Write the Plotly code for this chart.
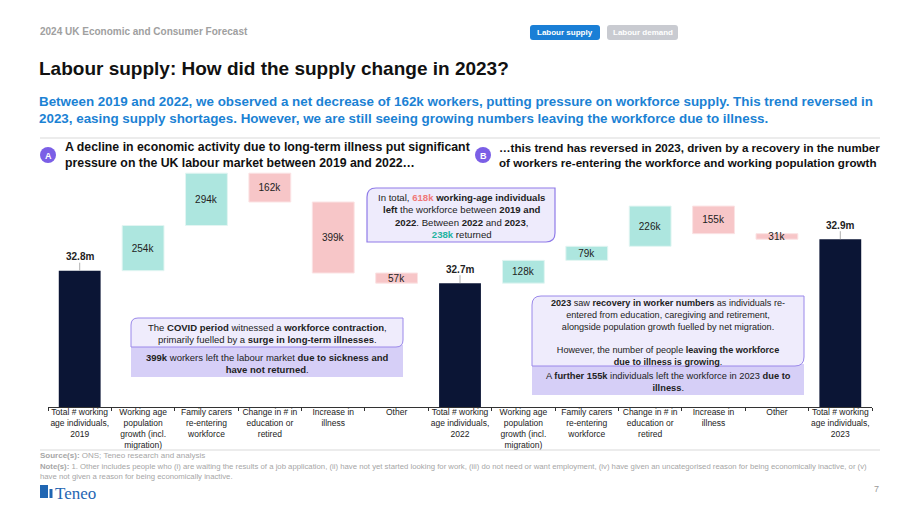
import plotly.graph_objects as go

# ---------------- data ----------------
categories = [
    "Total # working<br>age individuals,<br>2019",
    "Working age<br>population<br>growth (incl.<br>migration)",
    "Family carers<br>re-entering<br>workforce",
    "Change in # in<br>education or<br>retired",
    "Increase in<br>illness",
    "Other",
    "Total # working<br>age individuals,<br>2022",
    "Working age<br>population<br>growth (incl.<br>migration)",
    "Family carers<br>re-entering<br>workforce",
    "Change in # in<br>education or<br>retired",
    "Increase in<br>illness",
    "Other",
    "Total # working<br>age individuals,<br>2023",
]
values_k = [32800, 254, 294, -162, -399, -57, 0, 128, 79, 226, -155, -31, 0]
measures = ["absolute", "relative", "relative", "relative", "relative", "relative", "total",
            "relative", "relative", "relative", "relative", "relative", "total"]
total_labels = ["32.8m", "32.7m", "32.9m"]

# ---------------- geometry helpers (pixel -> paper) ----------------
W, H = 920, 518
ML, MR, MT, MB = 48, 48, 160, 111
PW, PH = W - ML - MR, H - MT - MB


def px(x):
    return (x - ML) / PW


def py(y):
    return (H - MB - y) / PH


def rrect(x0, y0, x1, y1, tl=0, tr=0, br=0, bl=0):
    def P(x, y):
        return f"{px(x):.5f},{py(y):.5f}"
    s = f"M {P(x0 + tl, y0)} L {P(x1 - tr, y0)} "
    if tr:
        s += f"Q {P(x1, y0)} {P(x1, y0 + tr)} "
    s += f"L {P(x1, y1 - br)} "
    if br:
        s += f"Q {P(x1, y1)} {P(x1 - br, y1)} "
    s += f"L {P(x0 + bl, y1)} "
    if bl:
        s += f"Q {P(x0, y1)} {P(x0, y1 - bl)} "
    s += f"L {P(x0, y0 + tl)} "
    if tl:
        s += f"Q {P(x0, y0)} {P(x0 + tl, y0)} "
    return s + "Z"


FONT = "Liberation Sans, Arial, Helvetica, sans-serif"
TXT = "#222222"

# ---------------- chart ----------------
x_idx = list(range(len(categories)))
texts = [("" if m != "relative" else f"{abs(v)}k") for v, m in zip(values_k, measures)]
positions = ["none" if m != "relative" else "inside" for m in measures]

fig = go.Figure()
fig.add_trace(go.Waterfall(
    x=x_idx, y=values_k, measure=measures,
    text=texts, textposition=positions, constraintext="none",
    insidetextanchor="middle",
    insidetextfont=dict(size=10, color=TXT, family=FONT),
    increasing=dict(marker=dict(color="#ade6df", line=dict(color="#e2f5f2", width=1))),
    decreasing=dict(marker=dict(color="#f7c6c8", line=dict(color="#fbe3e4", width=1))),
    totals=dict(marker=dict(color="#0b1535", line=dict(width=0))),
    connector=dict(visible=False),
    width=0.66,
    hoverinfo="skip",
))

# totals labels (computed cumulative)
running = 0
totals_vals = []
for v, m in zip(values_k, measures):
    if m == "absolute":
        running = v
        totals_vals.append(running)
    elif m == "relative":
        running += v
    else:
        totals_vals.append(running)
total_x = [i for i, m in enumerate(measures) if m != "relative"]

annotations = []
for xi, yv, lab in zip(total_x, totals_vals, total_labels):
    annotations.append(dict(
        x=xi, y=yv, xref="x", yref="y", text=f"<b>{lab}</b>",
        showarrow=True, arrowhead=0, arrowwidth=1, arrowcolor="#b0b0b0",
        ax=0, ay=-14, font=dict(size=10, color=TXT, family=FONT), borderpad=0,
    ))


def ann(x, y, text, size=10, color=TXT, xanchor="left", yanchor="middle", align="left", **kw):
    annotations.append(dict(
        x=px(x), y=py(y), xref="paper", yref="paper", text=text, showarrow=False,
        xanchor=xanchor, yanchor=yanchor, align=align, borderpad=0,
        font=dict(size=size, color=color, family=kw.pop("family", FONT)), **kw))


shapes = []


def add_path(path, fill, line_color=None, lw=0):
    shapes.append(dict(type="path", xref="paper", yref="paper", path=path,
                       fillcolor=fill, line=dict(color=line_color or fill, width=lw), layer="above"))


def hline(x0, x1, y, color="#d9d9d9", w=1):
    shapes.append(dict(type="line", xref="paper", yref="paper", x0=px(x0), x1=px(x1),
                       y0=py(y), y1=py(y), line=dict(color=color, width=w)))


# header
ann(39, 31, "<b>2024 UK Economic and Consumer Forecast</b>", size=10, color="#a0a0a0")
add_path(rrect(530, 25, 600, 40, 3, 3, 3, 3), "#1a7fd6")
ann(565, 32.5, "<b>Labour supply</b>", size=8, color="white", xanchor="center")
add_path(rrect(607, 25, 678, 40, 3, 3, 3, 3), "#c9cbd1")
ann(642.5, 32.5, "<b>Labour demand</b>", size=8, color="white", xanchor="center")

# title / subtitle
ann(38, 68, "<b>Labour supply: How did the supply change in 2023?</b>", size=19, color="#111111")
ann(38, 109.5,
    "<b>Between 2019 and 2022, we observed a net decrease of 162k workers, putting pressure on workforce supply. This trend reversed in<br>"
    "2023, easing supply shortages. However, we are still seeing growing numbers leaving the workforce due to illness.</b>",
    size=13.4, color="#1b82d4")
hline(40, 880, 138)

# section headers
shapes.append(dict(type="circle", xref="paper", yref="paper", x0=px(40), x1=px(56),
                   y0=py(163), y1=py(147), fillcolor="#7b5fe6", line=dict(width=0)))
ann(48, 155.5, "<b>A</b>", size=9, color="white", xanchor="center")
ann(64, 155, "<b>A decline in economic activity due to long-term illness put significant<br>"
             "pressure on the UK labour market between 2019 and 2022…</b>", size=12.3, color="#111111")
shapes.append(dict(type="circle", xref="paper", yref="paper", x0=px(475), x1=px(491),
                   y0=py(163), y1=py(147), fillcolor="#7b5fe6", line=dict(width=0)))
ann(483, 155.5, "<b>B</b>", size=9, color="white", xanchor="center")
ann(498, 155, "<b>…this trend has reversed in 2023, driven by a recovery in the number<br>"
              "of workers re-entering the workforce and working population growth</b>", size=11.6, color="#111111")

# box: in total 618k
add_path(rrect(367, 188, 555, 242, 9, 0, 9, 0), "#eeebfc", "#8f7be8", 1.2)
ann(461, 215.5,
    "In total, <span style='color:#f07878'><b>618k</b></span> <b>working-age individuals</b><br>"
    "<b>left</b> the workforce between <b>2019 and</b><br>"
    "<b>2022</b>. Between <b>2022</b> and <b>2023</b>,<br>"
    "<span style='color:#1fb3a1'><b>238k</b></span> returned",
    size=9.6, xanchor="center", align="center")

# box: COVID
add_path(rrect(131, 345, 403, 377), "#d6cff7")
add_path(rrect(131, 318, 403, 347, 7, 0, 7, 0), "#efecfc", "#9a88ea", 1)
ann(267, 333, "The <b>COVID period</b> witnessed a <b>workforce contraction</b>,<br>"
              "primarily fuelled by a <b>surge in long-term illnesses</b>.",
    size=9.5, xanchor="center", align="center")
ann(267, 363, "<b>399k</b> workers left the labour market <b>due to sickness and</b><br>"
              "<b>have not returned</b>.",
    size=9.5, xanchor="center", align="center")

# box: 2023 recovery
add_path(rrect(532, 364, 804, 395), "#d6cff7")
add_path(rrect(532, 296, 804, 366, 9, 0, 9, 0), "#efecfc", "#9a88ea", 1)
ann(668, 332, "<b>2023</b> saw <b>recovery in worker numbers</b> as individuals re-<br>"
              "entered from education, caregiving and retirement,<br>"
              "alongside population growth fuelled by net migration.<br>"
              " <br>"
              "However, the number of people <b>leaving the workforce</b><br>"
              "<b>due to illness is growing</b>.",
    size=9.1, xanchor="center", align="center")
ann(668, 381.5, "A <b>further 155k</b> individuals left the workforce in 2023 <b>due to</b><br>"
                "<b>illness</b>.",
    size=9.3, xanchor="center", align="center")

# footer
hline(40, 880, 450)
ann(39, 455.5, "<b>Source(s):</b> ONS; Teneo research and analysis", size=8, color="#a6a6a6")
ann(39, 471, "<b>Note(s):</b> 1. Other includes people who (i) are waiting the results of a job application, (ii) have not yet started looking for work, "
             "(iii) do not need or want employment, (iv) have given an uncategorised reason for being economically inactive, or (v)<br>"
             "have not given a reason for being economically inactive.", size=7.75, color="#a6a6a6")
shapes.append(dict(type="rect", xref="paper", yref="paper", x0=px(40), x1=px(48), y0=py(498), y1=py(485),
                   fillcolor="#1f66b3", line=dict(width=0)))
shapes.append(dict(type="rect", xref="paper", yref="paper", x0=px(49.5), x1=px(52.5), y0=py(498), y1=py(489),
                   fillcolor="#1f66b3", line=dict(width=0)))
ann(54, 493, "Teneo", size=17, color="#1f66b3", family="Liberation Serif, DejaVu Serif, serif")
ann(880, 489, "7", size=9, color="#9a9a9a", xanchor="right")

fig.update_layout(
    width=W, height=H,
    margin=dict(l=ML, r=MR, t=MT, b=MB, autoexpand=False),
    paper_bgcolor="white", plot_bgcolor="white",
    showlegend=False,
    font=dict(family=FONT, color=TXT),
    annotations=annotations, shapes=shapes,
    xaxis=dict(
        range=[-0.5, len(categories) - 0.5],
        tickmode="array", tickvals=x_idx, ticktext=categories,
        ticks="", showgrid=False, zeroline=False,
        showline=True, linecolor="#333333", linewidth=1,
        tickfont=dict(size=8.5, color=TXT, family=FONT),
        ticklabelstandoff=-3,
        minor=dict(tickmode="array", tickvals=[i - 0.5 for i in range(len(categories) + 1)],
                   ticks="outside", ticklen=3, tickcolor="#333333", tickwidth=1, showgrid=False),
    ),
    yaxis=dict(range=[32034, 33422], visible=False, showgrid=False, zeroline=False),
)

fig.write_html("out.html")
